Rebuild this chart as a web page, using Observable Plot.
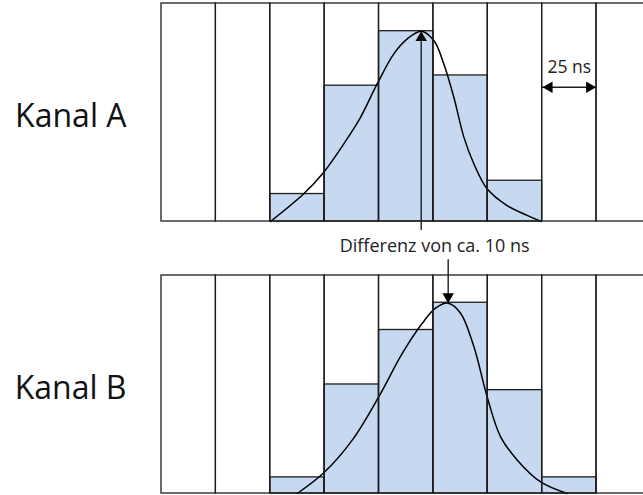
<!DOCTYPE html>
<html>
<head>
<meta charset="utf-8">
<script src="https://cdn.jsdelivr.net/npm/d3@7"></script>
<script src="https://cdn.jsdelivr.net/npm/@observablehq/plot@0.6"></script>
<style>
  html, body { margin: 0; padding: 0; background: #fff; overflow: hidden; }
  #chart svg { display: block; }
</style>
</head>
<body>
<div id="chart"></div>
<script>
// Bins (left edges, ns) — each bin is 25 ns wide
const binStarts = [0, 25, 50, 75, 100, 125, 150, 175, 200];
const binWidth = 25;
const channels = ["Kanal A", "Kanal B"];

// Histogram heights (relative units, 0–100 = full panel height)
const countsA = [0, 0, 12.6, 62.3, 87.3, 67.0, 18.7, 0, 0];
const countsB = [0, 0, 7.4, 50.0, 75.0, 87.5, 47.4, 7.4, 0];

// Fitted curves (time in ns, relative height)
const curveAt = [50.1, 65.4, 74.6, 83.8, 91.5, 99.2, 106.8, 113.0, 119.4, 125.2, 129.8, 134.4, 139.0, 143.6, 149.7, 158.9, 168.1, 174.6];
const curveAy = [0, 12.7, 22.6, 35.6, 47.8, 63.2, 76.9, 83.8, 87.3, 83.0, 72.3, 57.0, 38.7, 26.5, 15.0, 7.3, 2.8, 0];
const curveBt = [62.4, 74.6, 87.7, 99.9, 110.7, 119.9, 126.0, 131.8, 137.5, 143.6, 149.7, 155.9, 163.6, 174.3, 186.5];
const curveBy = [0, 9.5, 24.5, 44.4, 64.3, 78.1, 85.0, 87.3, 82.7, 67.4, 44.4, 26.0, 15.3, 5.3, 0];

// Annotations
const peakA = 119.4, peakB = 131.8, peakY = 87.3;
const diffLabel = "Differenz von ca. 10 ns";
const widthLabel = "25 ns";
const widthFrom = 175, widthTo = 200, widthArrowY = 61.6;

const bars = [];
channels.forEach((ch, ci) => {
  const counts = ci === 0 ? countsA : countsB;
  binStarts.forEach((b, i) => {
    if (counts[i] > 0) bars.push({ch, x1: b, x2: b + binWidth, y: counts[i]});
  });
});
const curves = [
  ...curveAt.map((t, i) => ({ch: "Kanal A", t, v: curveAy[i]})),
  ...curveBt.map((t, i) => ({ch: "Kanal B", t, v: curveBy[i]}))
];
const columns = binStarts.map(b => ({x1: b, x2: b + binWidth}));

const font = "'Open Sans', sans-serif";
const ink = "#1e1e1e";
const blue = "#c6d9f1";
const k = 3.3; // triangle geometry
const headR = k / Math.sqrt(Math.PI / (3 * Math.sqrt(3)));

const chart = Plot.plot({
  width: 643,
  height: 495,
  marginTop: 3,
  marginBottom: 1.7,
  marginLeft: 161,
  marginRight: 0,
  style: {fontFamily: font, background: "#fff", color: ink},
  x: {domain: [0, 225], range: [161, 650.4], axis: null},
  y: {domain: [0, 100], axis: null},
  fy: {domain: channels, paddingInner: 0.2, paddingOuter: 0},
  marks: [
    Plot.axisFy({anchor: "left", tickSize: 0, tickPadding: 35, fontSize: 32, label: null, dy: 4, fill: "#111"}),
    Plot.rect(bars, {x1: "x1", x2: "x2", y1: 0, y2: "y", fy: "ch", fill: blue, stroke: ink, strokeWidth: 1.3}),
    Plot.line(curves, {x: "t", y: "v", fy: "ch", z: "ch", curve: "catmull-rom", stroke: "#000", strokeWidth: 1.5}),
    Plot.rect(columns, {x1: "x1", x2: "x2", y1: 0, y2: 100, fill: "none", stroke: ink, strokeWidth: 1.3}),
    // Arrow in Kanal A (pointing up at the peak)
    Plot.ruleX([{ch: "Kanal A", x: peakA}], {x: "x", y1: -4.1, y2: peakY - 4, fy: "ch", stroke: ink, strokeWidth: 1.4}),
    Plot.dot([{ch: "Kanal A", x: peakA, y: peakY}], {x: "x", y: "y", fy: "ch", symbol: "triangle", r: headR, fill: "#000", stroke: "none", dy: 2 * k}),
    // Arrow in Kanal B (pointing down at the peak)
    Plot.ruleX([{ch: "Kanal B", x: peakB}], {x: "x", y1: 107.2, y2: peakY + 4, fy: "ch", stroke: ink, strokeWidth: 1.4}),
    Plot.dot([{ch: "Kanal B", x: peakB, y: peakY}], {x: "x", y: "y", fy: "ch", symbol: "triangle", r: headR, rotate: 180, fill: "#000", stroke: "none", dy: -2 * k}),
    // Difference label
    Plot.text([{ch: "Kanal A", x: (peakA + peakB) / 2, y: -11.3, label: diffLabel}], {x: "x", y: "y", fy: "ch", text: "label", fontSize: 18, fill: "#222"}),
    // 25 ns width marker
    Plot.ruleY([{ch: "Kanal A", y: widthArrowY}], {x1: widthFrom, x2: widthTo, y: "y", fy: "ch", stroke: ink, strokeWidth: 1.4}),
    Plot.dot([{ch: "Kanal A", x: widthFrom, y: widthArrowY}], {x: "x", y: "y", fy: "ch", symbol: "triangle", r: headR, rotate: -90, fill: "#000", stroke: "none", dx: 2 * k + 0.5}),
    Plot.dot([{ch: "Kanal A", x: widthTo, y: widthArrowY}], {x: "x", y: "y", fy: "ch", symbol: "triangle", r: headR, rotate: 90, fill: "#000", stroke: "none", dx: -2 * k - 0.5}),
    Plot.text([{ch: "Kanal A", x: (widthFrom + widthTo) / 2, y: 70.6, label: widthLabel}], {x: "x", y: "y", fy: "ch", text: "label", fontSize: 17.5, fill: "#222"})
  ]
});
document.getElementById("chart").append(chart);
</script>
</body>
</html>
